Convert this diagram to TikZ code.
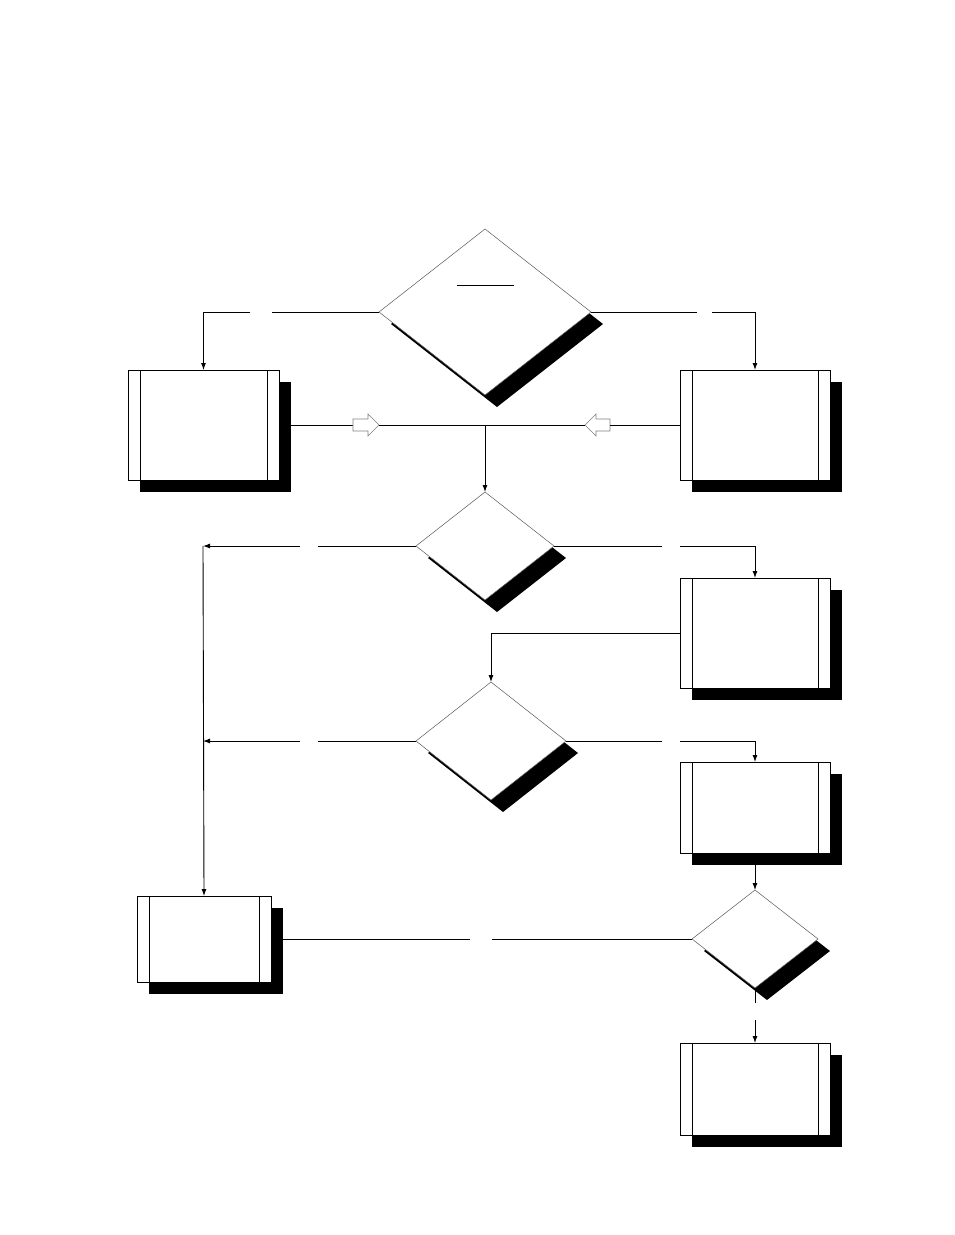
\documentclass[tikz,border=0pt]{standalone}
\usetikzlibrary{arrows.meta}
\tikzset{
  conn/.style={line width=0.9pt,-{Latex[length=7pt,width=5pt]}},
  plain/.style={line width=0.9pt},
  hollow/.style={draw=gray,fill=white,line width=0.6pt},
}
% box with double side bars and a drop shadow
\newcommand{\pbox}[5]{% name, x1, y1, x2, y2
  \fill (#2+12,#3+12) rectangle (#4+12,#5+12);
  \draw[plain,fill=white] (#2,#3) rectangle (#4,#5);
  \draw[plain] (#2+12,#3) -- (#2+12,#5);
  \draw[plain] (#4-12,#3) -- (#4-12,#5);
  \coordinate (#1) at ({(#2+#4)/2},{(#3+#5)/2});
  \coordinate (#1-n) at ({(#2+#4)/2},#3);
  \coordinate (#1-w) at (#2,{(#3+#5)/2});
  \coordinate (#1-e) at (#4+12,{(#3+#5)/2});
  \coordinate (#1-s) at ({(#2+#4)/2},#5+12);
}
% decision with drop shadow
\newcommand{\pdiam}[5]{% name, cx, cy, half width, half height
  \fill (#2+12,#3-#5+12) -- (#2+#4+12,#3+12) -- (#2+12,#3+#5+12) -- (#2-#4+12,#3+12) -- cycle;
  \draw[line width=0.5pt,fill=white,draw=gray!70!black] (#2,#3-#5) -- (#2+#4,#3) -- (#2,#3+#5) -- (#2-#4,#3) -- cycle;
  \coordinate (#1-n) at (#2,#3-#5);
  \coordinate (#1-w) at (#2-#4,#3);
  \coordinate (#1-e) at (#2+#4,#3);
  \coordinate (#1-s) at (#2,#3+#5);
}
\begin{document}
\begin{tikzpicture}[x=1pt,y=-1pt]
  \useasboundingbox (0,0) rectangle (954,1235);
  % decisions
  \pdiam{dA}{485}{312}{106}{83}
  \draw[plain] (457,285) -- (514,285);
  \pdiam{dB}{485}{546}{69}{54}
  \pdiam{dC}{491}{741}{75}{59}
  \pdiam{dD}{755}{939}{63}{49}
  % boxes
  \pbox{bL}{128}{370}{279}{480}
  \pbox{bR}{680}{370}{830}{480}
  \pbox{bS}{680}{578}{830}{688}
  \pbox{bT}{680}{762}{830}{853}
  \pbox{bE}{137}{896}{271}{982}
  \pbox{bF}{680}{1043}{830}{1135}
  \coordinate (lane) at (203,546);
  \coordinate (join) at (485,425);
  % top decision branches
  \draw[plain] (dA-w) -- (272,312);
  \draw[conn] (250,312) -| (bL-n);
  \draw[plain] (dA-e) -- (697,312);
  \draw[conn] (712,312) -| (bR-n);
  % merge into second decision
  \draw[plain] (bL-e) -- (353,425);
  \draw[hollow] (353,419) -- (368,419) -- (368,414) -- (379,425) -- (368,436) -- (368,431) -- (353,431) -- cycle;
  \draw[plain] (379,425) -- (585,425);
  \draw[hollow] (610,419) -- (596,419) -- (596,414) -- (585,425) -- (596,436) -- (596,431) -- (610,431) -- cycle;
  \draw[plain] (610,425) -- (bR-w);
  \draw[conn] (join) -- (dB-n);
  % second decision
  \draw[plain] (dB-w) -- (318,546);
  \draw[conn] (300,546) -- (lane);
  \draw[plain] (dB-e) -- (662,546);
  \draw[conn] (680,546) -| (bS-n);
  \draw[conn] (bS-w) -| (dC-n);
  % third decision
  \draw[plain] (dC-w) -- (318,741);
  \draw[conn] (300,741) -- (203,741);
  \draw[plain] (dC-e) -- (662,741);
  \draw[conn] (680,741) -| (bT-n);
  \draw[conn] (lane) -- (bE-n);
  \draw[conn] (bT-s) -- (dD-n);
  % last decision
  \draw[plain] (dD-w) -- (492,939);
  \draw[plain] (470,939) -- (bE-e);
  \draw[plain] (dD-s) -- (755,1003);
  \draw[conn] (755,1020) -- (bF-n);
\end{tikzpicture}
\end{document}
